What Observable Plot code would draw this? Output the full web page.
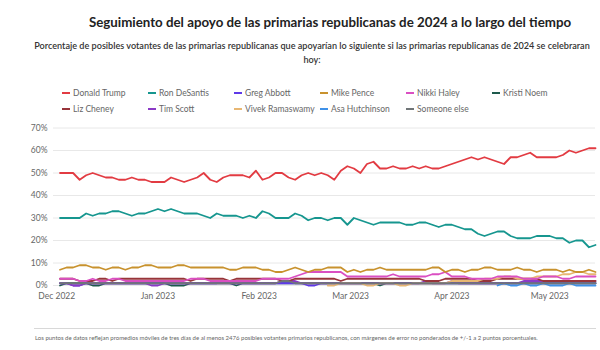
<!DOCTYPE html>
<html><head><meta charset="utf-8">
<script src="https://cdn.jsdelivr.net/npm/d3@7"></script>
<script src="https://cdn.jsdelivr.net/npm/@observablehq/plot@0.6"></script>
<style>
body{margin:0;background:#fff;font-family:Lato,"Open Sans",sans-serif;}
#wrap{position:relative;width:600px;height:350px;overflow:hidden;background:#fff;}
#title{position:absolute;top:13px;left:30px;width:600px;text-align:center;font-weight:700;font-size:13.3px;line-height:18px;color:#222;}
#subtitle{position:absolute;top:39px;left:12px;width:600px;text-align:center;font-size:9.1px;line-height:14px;color:#333;font-weight:600;}
#legend{position:absolute;top:86px;left:62px;display:grid;grid-template-columns:repeat(6,86px);grid-auto-rows:16px;font-size:8.5px;color:#666;}
#legend .it{display:flex;align-items:center;height:14px;white-space:nowrap;}
#legend .sw{display:inline-block;width:8px;height:2.5px;margin-right:3px;}
#chart{position:absolute;top:118px;left:0;}
#rule{position:absolute;top:328px;left:34px;width:562px;border-top:1px solid #d8d8d8;}
#foot{position:absolute;top:334px;left:35px;font-size:6px;color:#666;white-space:nowrap;}
</style></head>
<body>
<div id="wrap">
  <div id="title">Seguimiento del apoyo de las primarias republicanas de 2024 a lo largo del tiempo</div>
  <div id="subtitle">Porcentaje de posibles votantes de las primarias republicanas que apoyarían lo siguiente si las primarias republicanas de 2024 se celebraran<br>hoy:</div>
  <div id="legend"></div>
  <div id="chart"></div>
  <div id="rule"></div>
  <div id="foot">Los puntos de datos reflejan promedios móviles de tres días de al menos 2476 posibles votantes primarios republicanos, con márgenes de error no ponderados de +/-1 a 2 puntos porcentuales.</div>
</div>
<script>
// Daily rolling averages, sampled every 2 days from 2 Dec 2022
const firstDate = "2022-12-02";
const stepDays = 2;

const trump = [
  50,50,50,47,49,50,49,48,48,47, 47,48,47,47,46,46,46,48,47,46, 47,
  48,50,47,46,48,49,49,49,48,51, 47,48,50,50,48,47,49,50,49,50,
  49,47,51,53,52,50,54,55,52,52, 53,52,52,53,52,53,52,52,53,54, 55,
  56,57,56,57,56,55,54,57,57,58, 59,57,57,57,57,58,60,59,60,61, 61
];
const desantis = [
  30,30,30,30,32,31,32,32,33,33, 32,31,32,32,33,34,33,34,33,32, 32,
  32,31,30,32,31,31,31,30,31,30, 33,32,30,30,30,32,31,29,30,30,
  29,30,30,27,30,29,28,27,28,28, 28,28,27,27,28,28,27,26,27,27, 26,
  25,25,23,22,23,24,24,22,21,21, 21,22,22,22,21,21,19,20,20,17, 18
];
const abbott = [
  1,1,0,0,1,1,1,1,1,1, 1,1,1,1,1,1,1,1,1,1, 1,
  1,1,1,1,2,1,1,1,1,1, 1,1,1,1,1,1,1,0,0,1,
  1,1,1,1,1,1,1,1,1,1, 1,1,1,1,1,1,1,1,1,1, 1,
  1,1,1,1,1,1,1,1,1,1, 1,1,1,1,1,1,1,1,1,1, 1
];
const pence = [
  7,8,8,9,9,8,8,7,8,8, 7,8,8,9,9,8,8,8,9,9, 8,
  8,8,8,8,8,7,7,8,8,8, 7,7,6,6,7,8,7,6,7,7,
  8,8,8,6,7,6,7,7,8,7, 7,7,7,7,7,7,8,8,6,7, 7,
  6,7,7,8,8,7,7,7,8,7, 7,6,7,7,7,6,7,6,6,7, 6
];
const haley = [
  3,3,3,2,2,3,2,2,3,3, 2,2,2,2,2,2,2,2,2,2, 3,
  3,3,2,2,2,2,2,2,2,2, 3,3,3,3,3,4,5,6,6,6,
  6,6,6,4,4,4,4,4,4,4, 5,4,4,4,4,4,5,5,6,4, 4,
  4,3,3,3,3,4,4,4,4,3, 3,3,4,4,4,3,3,4,4,4, 4
];
const noem = [
  0,1,1,1,1,0,0,1,1,1, 1,1,1,1,1,1,1,0,0,0, 1,
  1,1,1,1,1,1,0,1,1,1, 1,1,1,1,1,1,1,1,1,1,
  1,1,1,1,1,1,1,1,0,1, 1,1,1,1,1,1,1,1,1,1, 1,
  1,1,1,1,1,1,1,1,1,1, 1,1,1,1,1,1,1,1,1,1, 1
];
const cheney = [
  3,3,3,2,2,2,3,3,2,3, 3,3,3,3,3,3,3,3,3,3, 2,
  3,3,3,3,3,2,3,3,3,3, 3,3,3,2,2,3,3,3,3,3,
  3,3,2,3,3,3,3,3,3,3, 3,3,3,3,3,2,2,2,3,3, 3,
  3,3,2,2,2,3,3,3,3,3, 3,3,2,2,2,2,2,2,2,2, 2
];
const scott = [
  1,1,0,0,1,1,1,1,1,1, 1,1,1,1,0,0,1,1,1,1, 1,
  1,1,1,1,1,1,1,1,1,1, 1,1,1,2,2,2,1,1,1,1,
  1,1,1,1,1,1,1,1,1,1, 1,1,1,1,1,2,1,1,1,2, 1,
  1,1,1,1,1,1,1,1,1,2, 2,2,2,2,2,2,2,2,2,2, 2
];
const ramaswamy = [
  null,null,null,null,null,null,null,null,null,null, null,null,null,null,null,null,null,null,null,null, null,
  null,null,null,null,null,null,null,null,null,null, null,null,null,null,null,null,null,null,null,null,
  0,0,1,1,1,1,0,0,1,1, 1,0,0,1,1,1,1,1,1,2, 2,
  2,2,2,3,3,3,4,4,3,3, 3,4,4,4,4,5,5,6,6,5, 5
];
const hutchinson = [
  null,null,null,null,null,null,null,null,null,null, null,null,null,null,null,null,null,null,null,null, null,
  null,null,null,null,null,null,null,null,null,null, null,null,null,null,null,null,null,null,null,null,
  null,null,null,null,null,null,null,null,null,null, null,null,null,null,null,null,null,null,null,null, null,
  null,null,null,null,null,0,1,0,0,1, 0,0,1,0,0,0,1,0,0,0, 0
];
const someoneElse = [
  1,1,1,1,1,1,1,1,1,1, 1,1,1,1,1,1,1,1,1,1, 1,
  1,1,1,1,1,1,1,1,1,1, 1,1,1,2,2,1,1,1,1,1,
  1,1,1,1,1,1,1,1,1,1, 1,1,1,1,1,1,1,1,1,1, 1,
  1,1,1,1,1,1,1,1,1,1, 1,1,1,1,1,1,1,1,1,1, 1
];

const candidates = ["Donald Trump","Ron DeSantis","Greg Abbott","Mike Pence","Nikki Haley","Kristi Noem",
                    "Liz Cheney","Tim Scott","Vivek Ramaswamy","Asa Hutchinson","Someone else"];
const colors = ["#e23b42","#16968f","#5f39e8","#c8922e","#da4fc2","#1d5a4c",
                "#98343a","#8b39c6","#e8b773","#3f91e8","#707577"];
const valuesByName = {
  "Donald Trump": trump, "Ron DeSantis": desantis, "Greg Abbott": abbott, "Mike Pence": pence,
  "Nikki Haley": haley, "Kristi Noem": noem, "Liz Cheney": cheney, "Tim Scott": scott,
  "Vivek Ramaswamy": ramaswamy, "Asa Hutchinson": hutchinson, "Someone else": someoneElse
};
const drawOrder = ["Kristi Noem","Greg Abbott","Tim Scott","Asa Hutchinson","Liz Cheney","Vivek Ramaswamy",
                   "Nikki Haley","Mike Pence","Ron DeSantis","Donald Trump","Someone else"];

const yTicks = [0,10,20,30,40,50,60,70];
const monthTicks = ["2022-12-01","2023-01-01","2023-02-01","2023-03-01","2023-04-01","2023-05-01"];
const xDomain = ["2022-11-30","2023-05-15"];

const start = new Date(firstDate);
const dates = trump.map((_, i) => d3.utcDay.offset(start, stepDays * i));

// Legend
const legend = document.getElementById("legend");
candidates.forEach((name, i) => {
  const it = document.createElement("div");
  it.className = "it";
  const sw = document.createElement("span");
  sw.className = "sw";
  sw.style.background = colors[i];
  it.appendChild(sw);
  it.appendChild(document.createTextNode(name));
  legend.appendChild(it);
});

const colorOf = Object.fromEntries(candidates.map((c, i) => [c, colors[i]]));
const lineMarks = drawOrder.map(name => {
  const vals = valuesByName[name];
  const rows = dates.map((d, i) => ({date: d, value: vals[i]}));
  return Plot.lineY(rows, {x: "date", y: "value", stroke: colorOf[name], strokeWidth: 1.8, curve: "linear"});
});

const chart = Plot.plot({
  width: 600,
  height: 190,
  marginTop: 9.5,
  marginBottom: 23,
  marginLeft: 53,
  marginRight: 5,
  style: {fontFamily: "Lato, 'Open Sans', sans-serif", fontSize: "8.5px", color: "#666", background: "transparent"},
  x: {type: "utc", domain: xDomain.map(d => new Date(d))},
  y: {domain: [0, 70]},
  marks: [
    Plot.ruleY(yTicks, {stroke: "#e8e8e8", strokeWidth: 1}),
    Plot.axisY({ticks: yTicks, tickSize: 0, tickPadding: 6, tickFormat: d => d + "%", label: null}),
    Plot.axisX({ticks: monthTicks.map(d => new Date(d)), tickSize: 0, tickPadding: 7, tickFormat: d3.utcFormat("%b %Y"), label: null}),
    ...lineMarks
  ]
});
document.getElementById("chart").appendChild(chart);
</script>
</body></html>
